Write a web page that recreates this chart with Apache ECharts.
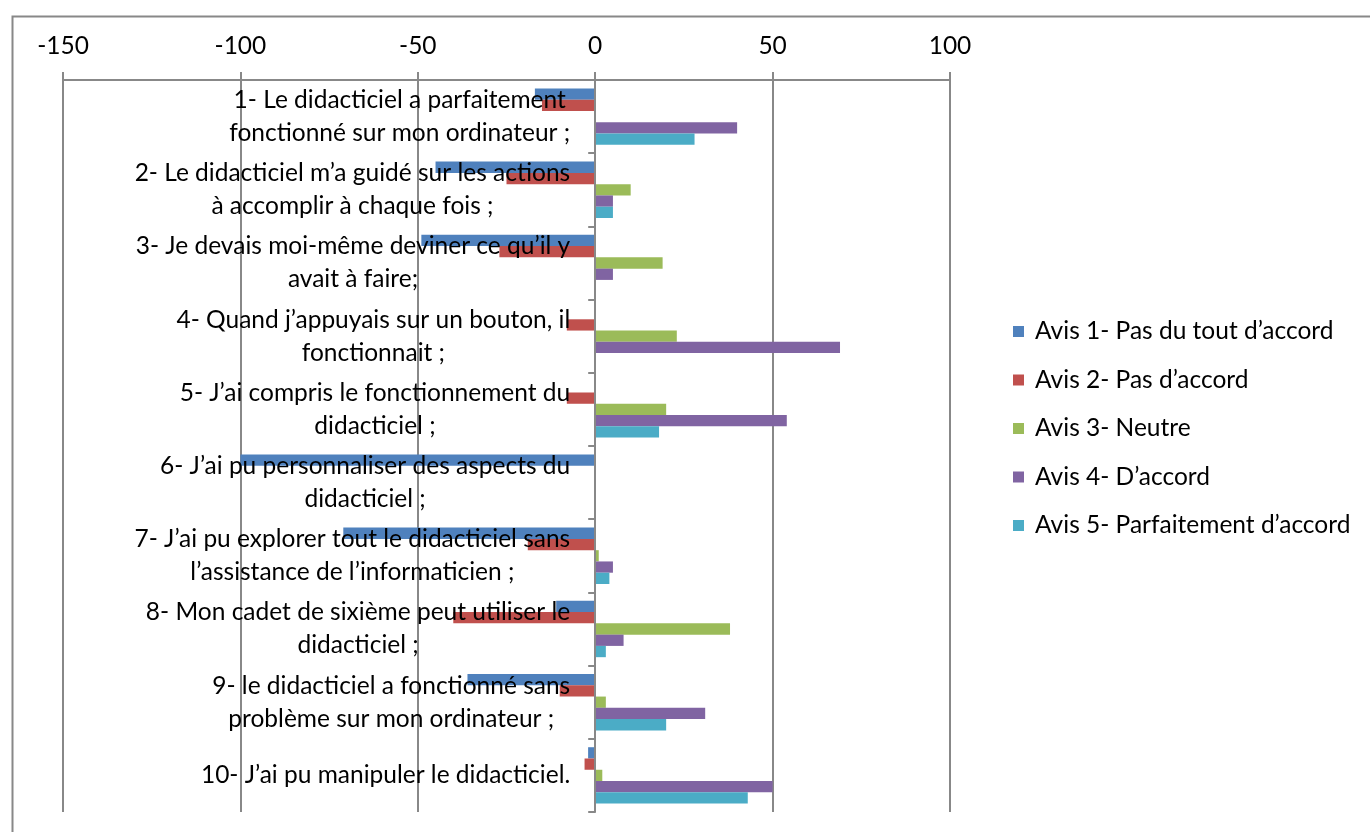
<!DOCTYPE html>
<html>
<head>
<meta charset="utf-8">
<script src="https://cdn.jsdelivr.net/npm/echarts/dist/echarts.min.js"></script>
<style>
  html, body { margin: 0; padding: 0; background: #fff; }
  #chart { width: 1370px; height: 832px; }
</style>
</head>
<body>
<div id="chart"></div>
<script>
// Survey statements (top to bottom)
const categories = [
  '1- Le didacticiel a parfaitement\nfonctionné sur mon ordinateur ;',
  '2- Le didacticiel m’a guidé sur les actions\nà accomplir à chaque fois ;',
  '3- Je devais moi-même deviner ce qu’il y\navait à faire;',
  '4- Quand j’appuyais sur un bouton, il\nfonctionnait ;',
  '5- J’ai compris le fonctionnement du\ndidacticiel ;',
  '6- J’ai pu personnaliser des aspects du\ndidacticiel ;',
  '7- J’ai pu explorer tout le didacticiel sans\nl’assistance de l’informaticien ;',
  '8- Mon cadet de sixième peut utiliser le\ndidacticiel ;',
  '9- le didacticiel a fonctionné sans\nproblème sur mon ordinateur ;',
  '10- J’ai pu manipuler le didacticiel.'
];

const seriesNames = [
  'Avis 1- Pas du tout d’accord',
  'Avis 2- Pas d’accord',
  'Avis 3- Neutre',
  'Avis 4- D’accord',
  'Avis 5- Parfaitement d’accord'
];

// Disagreement is plotted to the left of zero
const avis1 = [-17, -45, -49, 0, 0, -100, -71, -11, -36, -2];
const avis2 = [-15, -25, -27, -8, -8, 0, -19, -40, -10, -3];
const avis3 = [0, 10, 19, 23, 20, 0, 1, 38, 3, 2];
const avis4 = [40, 5, 5, 69, 54, 0, 5, 8, 31, 50];
const avis5 = [28, 5, 0, 0, 18, 0, 4, 3, 20, 43];

const xMin = -150;
const xMax = 100;
const xStep = 50;

const colors = ['#4F81BD', '#C0504D', '#9BBB59', '#8064A2', '#4BACC6'];
const FONT = 'Lato, "Noto Sans", sans-serif';
const FS = 24.5;
const GRAY = '#888888';

const GRID_LEFT = 63;
const GRID_RIGHT = 420;
const CHART_W = 1370;

// Statement labels sit just left of the zero line, not at the grid edge
const plotW = CHART_W - GRID_LEFT - GRID_RIGHT;
const zeroOffset = plotW * (0 - xMin) / (xMax - xMin);
const labelGap = 25;

const chart = echarts.init(document.getElementById('chart'), null, { renderer: 'canvas' });

const values = [avis1, avis2, avis3, avis4, avis5];

chart.setOption({
  animation: false,
  color: colors,
  textStyle: { fontFamily: FONT, color: '#000' },
  graphic: [{
    type: 'rect',
    left: 10, top: 14,
    shape: { width: 1400, height: 860 },
    style: { fill: 'none', stroke: GRAY, lineWidth: 2 },
    silent: true
  }],
  grid: { left: GRID_LEFT, right: GRID_RIGHT, top: 80, bottom: 20, containLabel: false, outerBoundsMode: 'none' },
  legend: {
    orient: 'vertical',
    left: 1008,
    top: 314,
    itemWidth: 11,
    itemHeight: 11,
    itemGap: 23.5,
    icon: 'rect',
    data: seriesNames,
    textStyle: { fontFamily: FONT, fontSize: FS, color: '#000', padding: [0, 0, 0, 6] }
  },
  xAxis: {
    type: 'value',
    position: 'top',
    min: xMin, max: xMax, interval: xStep,
    axisLine: { show: true, lineStyle: { color: GRAY, width: 2 } },
    axisTick: { show: true, length: 8, lineStyle: { color: GRAY, width: 2 } },
    axisLabel: { margin: 21, fontFamily: FONT, fontSize: FS, color: '#000' },
    splitLine: { show: true, lineStyle: { color: GRAY, width: 2 } }
  },
  yAxis: {
    type: 'category',
    inverse: true,
    data: categories,
    z: 5,
    axisLine: { onZero: true, lineStyle: { color: GRAY, width: 2 } },
    axisTick: { show: true, length: 7, lineStyle: { color: GRAY, width: 2 } },
    axisLabel: {
      margin: labelGap - zeroOffset,
      interval: 0,
      hideOverlap: false,
      formatter: v => '{c|' + v + '}',
      rich: {
        c: { align: 'center', fontFamily: FONT, fontSize: FS, lineHeight: 33, color: '#000' }
      }
    },
    splitLine: { show: false }
  },
  series: seriesNames.map((name, i) => ({
    name: name,
    type: 'bar',
    data: values[i],
    barGap: '0%',
    barCategoryGap: '23%',
    itemStyle: { color: colors[i] }
  }))
});
</script>
</body>
</html>
